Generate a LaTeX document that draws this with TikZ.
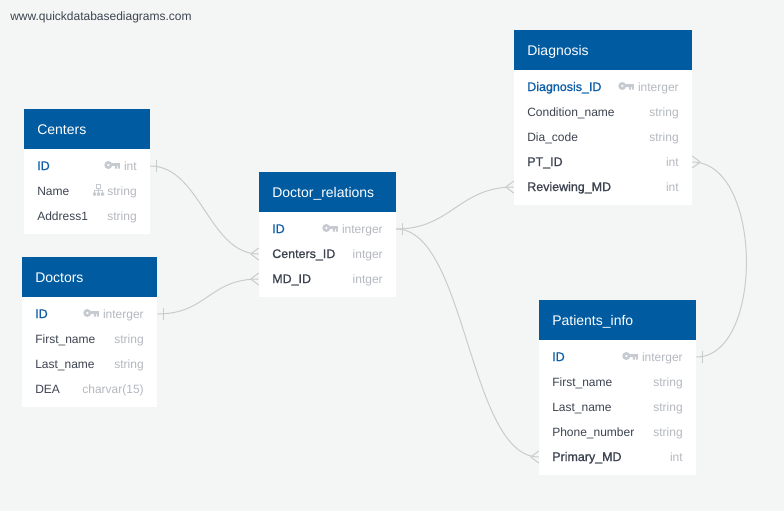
\documentclass[tikz,border=0pt]{standalone}
\usepackage{fontspec}
\setmainfont{Liberation Sans}
\newfontface{\semibold}[FakeBold=1]{Liberation Sans}
\usetikzlibrary{calc}

\definecolor{pagebg}{HTML}{F4F6F6}
\definecolor{headblue}{HTML}{005BA1}
\definecolor{idblue}{HTML}{0F5FA8}
\definecolor{fieldtxt}{HTML}{3D4450}
\definecolor{typetxt}{HTML}{B4B8BF}
\definecolor{icongrey}{HTML}{C6CAD1}
\definecolor{relgrey}{HTML}{C9CCCC}

\tikzset{
	tablehead/.style={fill=headblue,text=white,anchor=north west,inner xsep=9.75pt,inner ysep=0pt,minimum height=30pt,text height=9pt,text depth=1.5pt,font=\fontsize{10.5}{12}\selectfont},
	tablebody/.style={fill=white,anchor=north west,inner sep=0pt},
	tablerow/.style={anchor=center,inner sep=0pt,minimum height=18.75pt},
	plainf/.style={text=fieldtxt},
	idf/.style={text=idblue,font=\fontsize{9.35}{11}\semibold},
	fkf/.style={text=fieldtxt,font=\fontsize{9.35}{11}\semibold},
	fieldlbl/.style={anchor=base west,inner sep=0pt,font=\fontsize{9}{11}\selectfont},
	typelbl/.style={anchor=base east,inner sep=0pt,text=typetxt,font=\fontsize{9}{11}\selectfont},
	rel/.style={draw=relgrey,line width=0.75pt},
	crow/.pic={\draw[rel] (-8,0) -- (0,-6) (-8,0) -- (0,6);},
	tick/.pic={\draw[rel] (6,-6) -- (6,6);},
	keyicon/.pic={
		\fill[icongrey,even odd rule] (-11.5,0) circle (4) (-11.5,0) circle (1.5);
		\fill[icongrey] (-8,-2) rectangle (0,1);
		\fill[icongrey] (-5,0) rectangle (-3,3.5) (-2,0) rectangle (0,3.5);
	},
	treeicon/.pic={
		\draw[icongrey,line width=0.6pt] (-7.5,-5.5) rectangle (-3.5,-1.5) (-5.5,-1.5) -- (-5.5,0.5) (-9.5,2.5) -- (-9.5,0.5) -- (-1.5,0.5) -- (-1.5,2.5) (-5.5,0.5) -- (-5.5,2.5);
		\fill[icongrey] (-11,2.5) rectangle (-8,5.5) (-7,2.5) rectangle (-4,5.5) (-3,2.5) rectangle (0,5.5);
	},
}

% name, left, top, width, rows in the body, title
\newcommand{\tablebox}[6]{
	\node[tablebody,minimum width={(#4)*0.75pt},minimum height={(#5*25+10)*0.75pt}] (#1-body) at (#2,#3+40) {};
	\node[tablehead,text width={(#4-26)*0.75pt}] (#1) at (#2,#3) {#6};
}
% name, left, centre y, width, style, field, type
\newcommand{\tableline}[7]{
	\node[tablerow,minimum width={(#4)*0.75pt}] (#1) at (#2+#4/2,#3) {};
	\node[fieldlbl,#5] (#1-f) at (#2+13,#3+4) {#6};
	\node[typelbl] (#1-t) at (#2+#4-13,#3+4) {#7};
}

\begin{document}
\begin{tikzpicture}[x=0.75pt,y=-0.75pt]

\useasboundingbox[fill=pagebg] (0,0) rectangle (784,511);

\node[anchor=base west,inner sep=0pt,text=fieldtxt,font=\fontsize{9}{10}\selectfont] (site) at (10,20) {www.quickdatabasediagrams.com};

\tablebox{cen}{24}{109}{126}{3}{Centers}
\foreach \n/\s/\f/\t/\y in {id/idf/ID/int/166,name/plainf/Name/string/191,addr/plainf/Address1/string/216}
{
	\tableline{cen-\n}{24}{\y}{126}{\s}{\f}{\t}
}

\tablebox{doc}{22}{257}{135}{4}{Doctors}
\foreach \n/\s/\f/\t/\y in {id/idf/ID/interger/314,first/plainf/First\_name/string/339,last/plainf/Last\_name/string/364,dea/plainf/DEA/charvar(15)/389}
{
	\tableline{doc-\n}{22}{\y}{135}{\s}{\f}{\t}
}

\tablebox{rel}{259}{172}{137}{3}{Doctor\_relations}
\foreach \n/\s/\f/\t/\y in {id/idf/ID/interger/229,cen/fkf/Centers\_ID/intger/254,md/fkf/MD\_ID/intger/279}
{
	\tableline{rel-\n}{259}{\y}{137}{\s}{\f}{\t}
}

\tablebox{dia}{514}{30}{178}{5}{Diagnosis}
\foreach \n/\s/\f/\t/\y in {id/idf/Diagnosis\_ID/interger/87,cond/plainf/Condition\_name/string/112,code/plainf/Dia\_code/string/137,pt/fkf/PT\_ID/int/162,md/fkf/Reviewing\_MD/int/187}
{
	\tableline{dia-\n}{514}{\y}{178}{\s}{\f}{\t}
}

\tablebox{pat}{539}{300}{157}{5}{Patients\_info}
\foreach \n/\s/\f/\t/\y in {id/idf/ID/interger/357,first/plainf/First\_name/string/382,last/plainf/Last\_name/string/407,phone/plainf/Phone\_number/string/432,md/fkf/Primary\_MD/int/457}
{
	\tableline{pat-\n}{539}{\y}{157}{\s}{\f}{\t}
}

% icons next to the types
\foreach \k in {cen-id,doc-id,rel-id,dia-id,pat-id}
{
	\pic at ($(\k-t.base west)+(-4,-5)$) {keyicon};
}
\pic at ($(cen-name-t.base west)+(-3,-5)$) {treeicon};

% relations
\draw[rel] (cen-id.east) .. controls +(50,0) and +(-50,0) .. (rel-cen.west);
\draw[rel] (doc-id.east) .. controls +(50,0) and +(-50,0) .. (rel-md.west);
\draw[rel] (rel-id.east) .. controls +(55,0) and +(-55,0) .. (dia-md.west);
\draw[rel] (rel-id.east) .. controls +(70,0) and +(-70,0) .. (pat-md.west);
\draw[rel] (pat-id.east) .. controls +(68,0) and +(71,0) .. (dia-pt.east);

\foreach \k in {cen-id,doc-id,rel-id,pat-id}
{
	\pic at (\k.east) {tick};
}
\foreach \k in {rel-cen,rel-md,dia-md,pat-md}
{
	\pic at (\k.west) {crow};
}
\pic[xscale=-1] at (dia-pt.east) {crow};

\end{tikzpicture}
\end{document}
